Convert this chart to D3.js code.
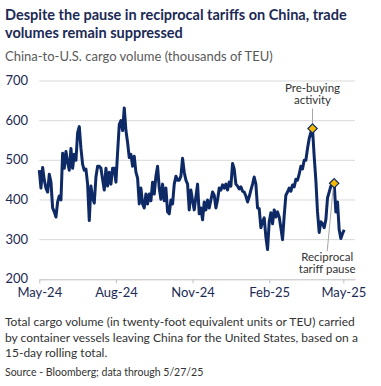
<!DOCTYPE html>
<html>
<head>
<meta charset="utf-8">
<script src="https://cdn.jsdelivr.net/npm/d3@7"></script>
<style>
  body { margin: 0; background: #fff; }
  svg { display: block; font-family: Lato, "Open Sans", sans-serif; }
</style>
</head>
<body>
<div id="chart"></div>
<script>
// China-to-U.S. cargo volume, thousands of TEU, one reading every 2 days from 27 May 2024
const startDate = new Date(2024, 4, 27);
const stepDays = 2;
const values = [
  475,430,482,450,430,420,465,445,380,370,
  357,395,410,400,518,480,522,495,475,530,
  480,515,500,570,585,530,490,475,478,440,
  348,435,405,392,458,485,485,480,452,425,
  480,435,470,440,480,480,445,520,590,600,
  575,632,575,545,507,515,485,510,470,455,
  390,430,390,380,415,390,415,398,445,415,
  460,485,430,402,440,398,430,370,365,400,
  390,440,460,450,450,460,505,470,450,440,
  375,425,398,375,408,440,365,380,350,395,
  375,400,380,400,420,412,380,400,430,425,
  438,430,440,425,445,435,492,478,440,435,
  428,433,422,420,410,395,408,425,440,458,
  440,380,378,330,345,355,307,275,345,368,
  340,375,357,370,357,330,300,360,412,420,
  430,422,438,433,452,450,465,485,478,500,
  500,530,555,570,580,510,450,370,318,345,
  340,330,350,405,420,435,440,442,370,395,
  325,303,315,325
];

const yTicks = [200, 300, 400, 500, 600, 700];
const xTickDates = [new Date(2024, 4, 27), new Date(2024, 7, 27), new Date(2024, 10, 27), new Date(2025, 1, 27), new Date(2025, 4, 27)];
const xTickLabels = ["May-24", "Aug-24", "Nov-24", "Feb-25", "May-25"];

// annotated points (index into values) and their labels
const markIdx = [164, 177];
const markLabels = [["Pre-buying", "activity"], ["Reciprocal", "tariff pause"]];

const titleLines = ["Despite the pause in reciprocal tariffs on China, trade", "volumes remain suppressed"];
const subtitle = "China-to-U.S. cargo volume (thousands of TEU)";
const noteLines = [
  "Total cargo volume (in twenty-foot equivalent units or TEU) carried",
  "by container vessels leaving China for the United States, based on a",
  "15-day rolling total."
];
const source = "Source - Bloomberg; data through 5/27/25";

const data = values.map((v, i) => ({ date: d3.timeDay.offset(startDate, i * stepDays), value: v }));

const W = 381, H = 386;
const navy = "#0e2a66";

const svg = d3.select("#chart").append("svg")
  .attr("width", W).attr("height", H);

// title + subtitle
svg.selectAll(".title").data(titleLines).join("text")
  .attr("x", 5).attr("y", (d, i) => 20 + i * 18)
  .attr("fill", "#1b2a55").attr("font-weight", "bold").attr("font-size", 14.5)
  .text(d => d);
svg.append("text")
  .attr("x", 5).attr("y", 61)
  .attr("fill", "#595959").attr("font-size", 13)
  .text(subtitle);

const x = d3.scaleTime()
  .domain([startDate, new Date(2025, 5, 10)])
  .range([39.3, 355]);
const y = d3.scaleLinear()
  .domain([200, 700])
  .range([279.3, 81]);

// gridlines
svg.append("g").selectAll("line").data(yTicks.slice(1)).join("line")
  .attr("x1", x.range()[0]).attr("x2", x.range()[1])
  .attr("y1", d => y(d)).attr("y2", d => y(d))
  .attr("stroke", "#d9d9d9").attr("stroke-width", 1);

// y labels
svg.append("g").selectAll("text").data(yTicks).join("text")
  .attr("x", 28).attr("y", d => y(d) + 4)
  .attr("text-anchor", "end")
  .attr("fill", "#1b2a55").attr("font-size", 13)
  .text(d => d);

// x axis
const xAxis = d3.axisBottom(x)
  .tickValues(xTickDates)
  .tickFormat((d, i) => xTickLabels[i])
  .tickSize(4)
  .tickSizeOuter(0);
const gx = svg.append("g")
  .attr("transform", `translate(0,${y(200)})`)
  .call(xAxis);
gx.select(".domain").attr("stroke", "#bfbfbf");
gx.selectAll(".tick line").attr("stroke", "#bfbfbf");
gx.selectAll(".tick text")
  .attr("font-family", "Lato, 'Open Sans', sans-serif")
  .attr("font-size", 13).attr("fill", "#1b2a55")
  .attr("y", 8).attr("dy", "0.71em");

// series line
const line = d3.line()
  .x(d => x(d.date))
  .y(d => y(d.value));
svg.append("path")
  .datum(data)
  .attr("d", line)
  .attr("fill", "none")
  .attr("stroke", navy)
  .attr("stroke-width", 3)
  .attr("stroke-linejoin", "round");

// annotations
const m0 = data[markIdx[0]], m1 = data[markIdx[1]];
const p0 = [x(m0.date), y(m0.value)], p1 = [x(m1.date), y(m1.value)];

svg.append("line")
  .attr("x1", p0[0]).attr("y1", p0[1] - 20)
  .attr("x2", p0[0]).attr("y2", p0[1] - 5)
  .attr("stroke", "#a6a6a6").attr("stroke-width", 1);
svg.append("line")
  .attr("x1", p1[0] - 7).attr("y1", p1[1] + 68)
  .attr("x2", p1[0] - 1).attr("y2", p1[1] + 5)
  .attr("stroke", "#a6a6a6").attr("stroke-width", 1);

svg.selectAll(".lab0").data(markLabels[0]).join("text")
  .attr("x", p0[0]).attr("y", (d, i) => p0[1] - 37 + i * 12)
  .attr("text-anchor", "middle").attr("font-size", 11.5).attr("fill", "#333")
  .text(d => d);
svg.selectAll(".lab1").data(markLabels[1]).join("text")
  .attr("x", p1[0] - 7).attr("y", (d, i) => p1[1] + 78 + i * 12)
  .attr("text-anchor", "middle").attr("font-size", 11.5).attr("fill", "#333")
  .text(d => d);

svg.selectAll(".mark").data([m0, m1]).join("path")
  .attr("d", d3.symbol(d3.symbolDiamond2, 55))
  .attr("transform", d => `translate(${x(d.date)},${y(d.value)})`)
  .attr("fill", "#f5b800").attr("stroke", navy).attr("stroke-width", 1.2);

// footnote
svg.selectAll(".note").data(noteLines).join("text")
  .attr("x", 5).attr("y", (d, i) => 326 + i * 15.5)
  .attr("fill", "#333").attr("font-size", 12)
  .text(d => d);
svg.append("text")
  .attr("x", 5).attr("y", 376)
  .attr("fill", "#333").attr("font-size", 10.5)
  .text(source);
</script>
</body>
</html>
